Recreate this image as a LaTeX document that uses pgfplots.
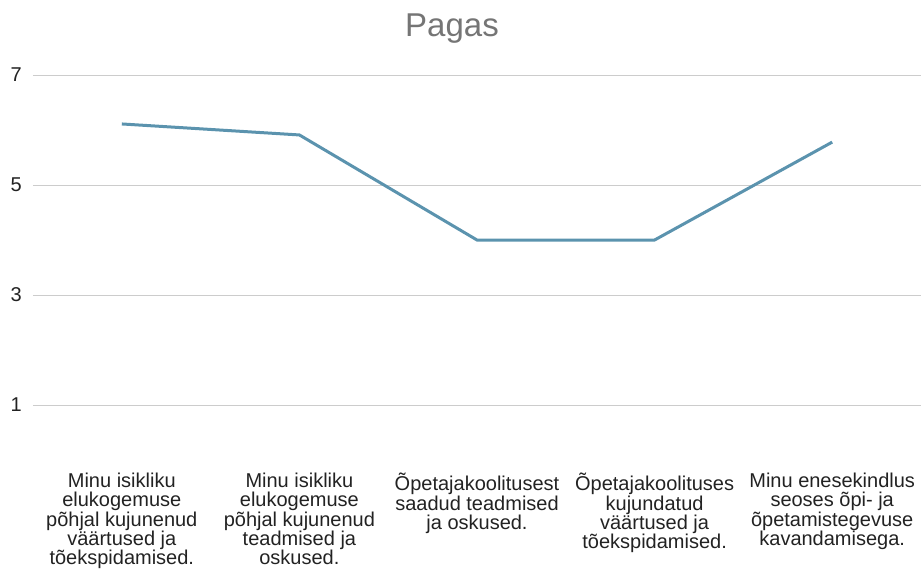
\documentclass[border=0pt]{standalone}
\usepackage{pgfplots}
\pgfplotsset{compat=1.18}
\usepackage{fontspec}
\setmainfont{Liberation Sans}
\definecolor{linecol}{HTML}{5B93AE}
\definecolor{gridcol}{HTML}{CCCCCC}
\definecolor{titlecol}{HTML}{757575}
\definecolor{txtcol}{HTML}{222222}
\begin{document}
\begin{tikzpicture}
\useasboundingbox (0,0) rectangle (921bp,569bp);
\begin{axis}[
  at={(33bp,109bp)}, anchor=south west,
  scale only axis, width=888bp, height=385bp,
  xmin=-0.5, xmax=4.5, ymin=0, ymax=7,
  ytick={1,3,5,7},
  xtick={0,1,2,3,4},
  xticklabels={
    {Minu isikliku\\elukogemuse\\põhjal kujunenud\\väärtused ja\\tõekspidamised.},
    {Minu isikliku\\elukogemuse\\põhjal kujunenud\\teadmised ja\\oskused.},
    {Õpetajakoolitusest\\saadud teadmised\\ja oskused.},
    {Õpetajakoolituses\\kujundatud\\väärtused ja\\tõekspidamised.},
    {Minu enesekindlus\\seoses õpi- ja\\õpetamistegevuse\\kavandamisega.}
  },
  axis line style={draw=none},
  major tick length=0pt,
  tick style={draw=none},
  ymajorgrids,
  grid style={gridcol, line width=1bp},
  /pgf/number format/assume math mode=true,
  yticklabel style={anchor=east, inner sep=0pt, xshift=-11bp, font=\fontsize{20bp}{20bp}\selectfont, text=txtcol},
  xticklabel style={anchor=north, inner sep=0pt, yshift=-13bp, align=center, font=\fontsize{20bp}{19.3bp}\selectfont, text=txtcol},
  clip=false,
]
\addplot[linecol, line width=3bp, no markers] coordinates {
  (0,6.11) (1,5.91) (2,4.0) (3,4.0) (4,5.78)
};
\end{axis}
\node[anchor=base, inner sep=0pt, text=titlecol, font=\fontsize{33bp}{36bp}\selectfont] at (452bp,532bp) {Pagas};
\end{tikzpicture}
\end{document}
